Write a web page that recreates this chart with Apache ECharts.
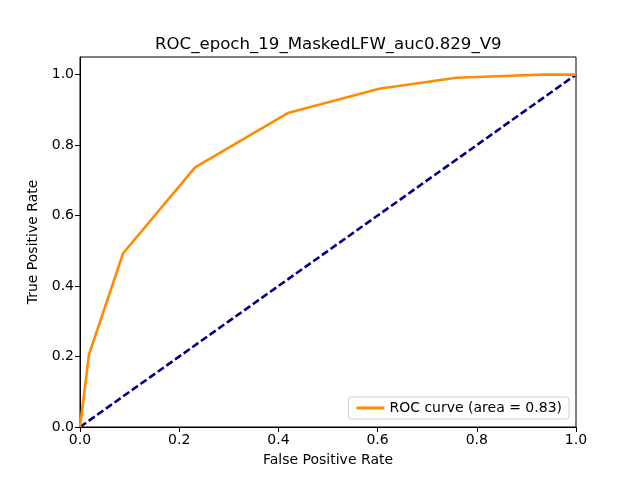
<!DOCTYPE html>
<html>
<head>
<meta charset="utf-8">
<script src="https://cdn.jsdelivr.net/npm/echarts@6/dist/echarts.min.js"></script>
<style>
  html, body { margin: 0; padding: 0; background: #fff; }
  #chart { width: 640px; height: 480px; }
</style>
</head>
<body>
<div id="chart"></div>
<script>
// ROC points
const fpr = [0, 0.018, 0.087, 0.232, 0.419, 0.603, 0.759, 0.867, 0.933, 1.0]
const tpr = [0, 0.205, 0.493, 0.737, 0.891, 0.960, 0.991, 0.997, 1.0, 1.0]
const chanceX = [0, 1]
const chanceY = [0, 1]

const titleText = 'ROC_epoch_19_MaskedLFW_auc0.829_V9'
const curveName = 'ROC curve (area = 0.83)'

const font = 'DejaVu Sans'

const chart = echarts.init(document.getElementById('chart'))

const axisCommon = {
  min: 0,
  interval: 0.2,
  nameLocation: 'middle',
  nameTextStyle: { fontFamily: font, fontSize: 14, color: '#000' },
  axisLine: { show: true, onZero: false, lineStyle: { color: '#000', width: 1 } },
  axisTick: { show: true, inside: false, length: 5, lineStyle: { color: '#000' } },
  axisLabel: {
    fontFamily: font, fontSize: 14, color: '#000', margin: 6,
    showMaxLabel: true,
    formatter: v => v.toFixed(1)
  },
  splitLine: { show: false }
}

chart.setOption({
  animation: false,
  backgroundColor: '#fff',
  title: {
    text: titleText,
    left: 155,
    top: 36,
    padding: 0,
    textStyle: { fontFamily: font, fontSize: 16.6, fontWeight: 'normal', color: '#000' }
  },
  grid: {
    left: 80, right: 64, top: 57, bottom: 53,
    show: true, borderColor: '#000', borderWidth: 1, backgroundColor: 'transparent'
  },
  legend: {
    right: 71,
    bottom: 61,
    orient: 'vertical',
    backgroundColor: '#fff',
    borderColor: '#d0d0d0',
    borderWidth: 1,
    borderRadius: 3,
    padding: [4, 7, 4, 8],
    itemWidth: 28,
    itemHeight: 3,
    itemGap: 8,
    textStyle: { fontFamily: font, fontSize: 14, color: '#000' },
    data: [{ name: curveName, icon: 'rect' }]
  },
  xAxis: Object.assign({}, axisCommon, {
    type: 'value',
    max: 1,
    name: 'False Positive Rate',
    nameGap: 26
  }),
  yAxis: Object.assign({}, axisCommon, {
    type: 'value',
    max: 1.05,
    name: 'True Positive Rate',
    nameGap: 40,
    axisLabel: Object.assign({}, axisCommon.axisLabel, { showMaxLabel: false })
  }),
  series: [
    {
      name: curveName,
      type: 'line',
      data: fpr.map((x, i) => [x, tpr[i]]),
      symbol: 'none',
      lineStyle: { color: '#ff8c00', width: 2.6 },
      itemStyle: { color: '#ff8c00' },
      clip: false,
      z: 3
    },
    {
      name: 'chance',
      type: 'line',
      data: chanceX.map((x, i) => [x, chanceY[i]]),
      symbol: 'none',
      lineStyle: { color: '#000080', width: 2.6, type: [7.4, 3.2] },
      clip: false,
      z: 2
    }
  ]
})
</script>
</body>
</html>
